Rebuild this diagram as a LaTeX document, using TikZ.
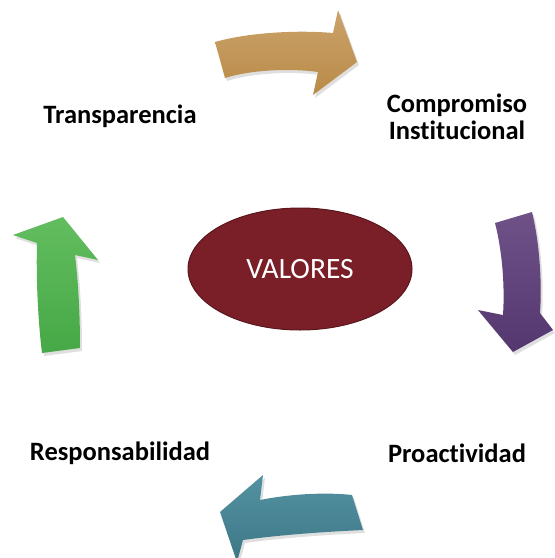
\documentclass[tikz,border=0pt]{standalone}
\usepackage{fontspec}
\setmainfont{Carlito}[RawFeature={-liga;-clig;-dlig}]
\usetikzlibrary{shadows,shapes.geometric}
\definecolor{goldT}{HTML}{CBA26A}
\definecolor{goldB}{HTML}{B98B48}
\definecolor{purpT}{HTML}{6E5288}
\definecolor{purpB}{HTML}{55376F}
\definecolor{tealT}{HTML}{5392A2}
\definecolor{tealB}{HTML}{3E7786}
\definecolor{grnT}{HTML}{62BD5F}
\definecolor{grnB}{HTML}{46A846}
\definecolor{valfill}{HTML}{7A1F28}
\definecolor{valdraw}{HTML}{5A161D}
\tikzset{
  arrowshape/.style={drop shadow={shadow xshift=2pt,shadow yshift=-3pt,opacity=0.25}},
  lbl/.style={font=\bfseries\fontsize{26.5}{27}\selectfont, align=center, text=black, inner sep=0pt},
}
\begin{document}
\begin{tikzpicture}[x=1pt,y=-1pt]
\useasboundingbox (0,0) rectangle (555,558);
% gold top arrow
\path[arrowshape, top color=goldT, bottom color=goldB]
  (215,42) .. controls (250,32) and (300,30) .. (333,33) -- (338,10) -- (357,62) -- (313,95) -- (318,72)
  .. controls (290,68) and (250,70) .. (225,78) -- cycle;
% purple right arrow
\path[arrowshape, top color=purpT, bottom color=purpB]
  (495,223) -- (532,212) .. controls (540,245) and (542,285) .. (540,313) -- (553,330) -- (513,352) -- (478,310) -- (503,315)
  .. controls (505,285) and (502,250) .. (495,223) -- cycle;
% teal bottom arrow
\path[arrowshape, top color=tealT, bottom color=tealB]
  (352,495) -- (363,530) .. controls (320,532) and (280,535) .. (243,540) -- (237,562) -- (220,512) -- (263,475) -- (260,500)
  .. controls (290,494) and (325,492) .. (352,495) -- cycle;
% green left arrow
\path[arrowshape, top color=grnT, bottom color=grnB]
  (42,353) -- (80,348) .. controls (80,310) and (78,280) .. (75,255) -- (98,260) -- (63,217) -- (13,235) -- (37,243)
  .. controls (36,280) and (38,320) .. (42,353) -- cycle;
% center
\node[ellipse, fill=valfill, draw=valdraw, line width=1pt, minimum width=224pt, minimum height=122pt,
  text=white, font=\fontsize{29.5}{32}\selectfont] (val) at (300,269) {VALORES};
% labels
\node[lbl] (t) at (120,116) {Transparencia};
\node[lbl] (c) at (457,117) {Compromiso\\Institucional};
\node[lbl] (r) at (120,453) {Responsabilidad};
\node[lbl] (p) at (457,453) {Proactividad};
\end{tikzpicture}
\end{document}
